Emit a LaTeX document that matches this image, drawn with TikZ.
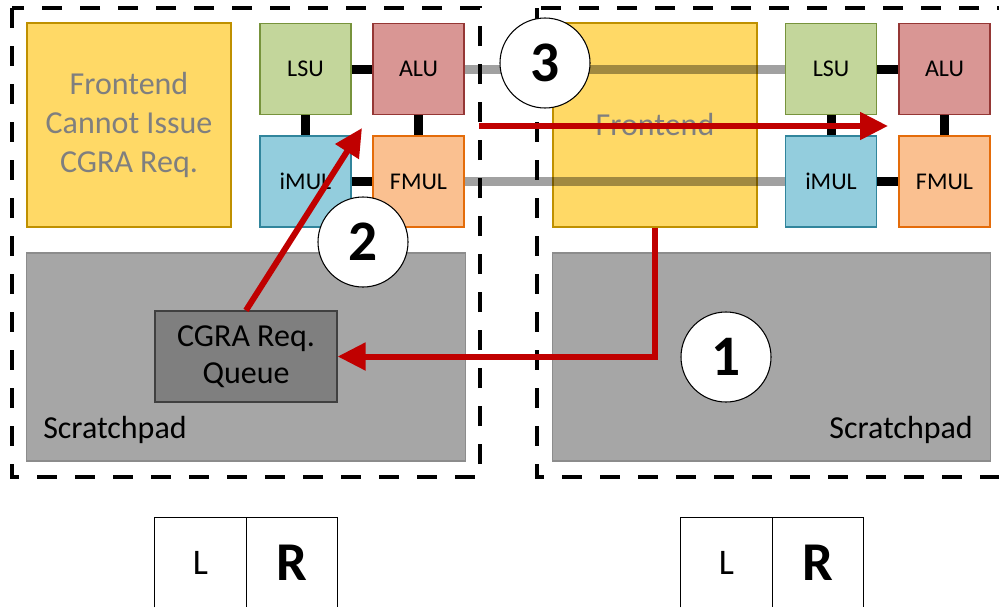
\documentclass[tikz,border=0pt]{standalone}
\usepackage{fontspec}
\setmainfont{Carlito}
\usetikzlibrary{arrows.meta}
\definecolor{feF}{HTML}{FFD966}
\definecolor{feD}{HTML}{BF9000}
\definecolor{lsuF}{HTML}{C3D69B}
\definecolor{lsuD}{HTML}{77933C}
\definecolor{aluF}{HTML}{D99694}
\definecolor{aluD}{HTML}{953735}
\definecolor{imulF}{HTML}{93CDDD}
\definecolor{imulD}{HTML}{31859C}
\definecolor{fmulF}{HTML}{FAC090}
\definecolor{fmulD}{HTML}{E46C0A}
\definecolor{spF}{HTML}{A6A6A6}
\definecolor{spD}{HTML}{8C8C8C}
\definecolor{qF}{HTML}{7F7F7F}
\definecolor{qD}{HTML}{404040}
\definecolor{txtgray}{HTML}{7F7F7F}
\definecolor{redA}{HTML}{C00000}
\tikzset{
  unit/.style={draw, line width=0.9pt, minimum width=68.25pt, minimum height=68.25pt, inner sep=0pt, font=\fontsize{18}{21}\selectfont},
  lsu/.style={unit, fill=lsuF, draw=lsuD},
  alu/.style={unit, fill=aluF, draw=aluD},
  imul/.style={unit, fill=imulF, draw=imulD},
  fmul/.style={unit, fill=fmulF, draw=fmulD},
  febox/.style={draw=feD, fill=feF, line width=0.9pt, minimum width=153pt, minimum height=153pt, inner sep=0pt, text=txtgray, align=center, font=\fontsize{24}{29.5}\selectfont},
  spad/.style={draw=spD, fill=spF, line width=0.8pt, minimum width=329pt, minimum height=156pt, inner sep=0pt},
  splabel/.style={inner sep=0pt, font=\fontsize{24}{28}\selectfont},
  queue/.style={draw=qD, fill=qF, line width=0.9pt, minimum width=136.5pt, minimum height=68.25pt, inner sep=0pt, align=center, font=\fontsize{24}{28}\selectfont},
  badge/.style={circle, draw=black, fill=white, line width=0.8pt, minimum size=67.5pt, inner sep=0pt, font=\fontsize{43}{45}\selectfont\bfseries},
  link/.style={draw=black, line width=6.75pt},
  bus/.style={draw=black, draw opacity=0.37, line width=6.75pt},
  redarrow/.style={draw=redA, line width=4.5pt, -{Triangle[length=21pt,width=20pt]}},
  dashbox/.style={draw=black, line width=3pt, dash pattern=on 15pt off 13.5pt},
  lrcell/.style={minimum width=68.25pt, minimum height=66.75pt, inner sep=0pt},
  cellline/.style={draw=black, line width=0.8pt}
}
\begin{document}
\begin{tikzpicture}[x=0.75pt,y=-0.75pt]
\useasboundingbox (0,0) rectangle (999,607);
\clip (0,0) rectangle (999,607);

% dashed tiles
\draw[dashbox] (12,8) rectangle (480,477);
\draw[dashbox] (537,8) rectangle (1030,477);

% scratchpads
\node[spad] (SP1) at (246,357) {};
\node[spad] (SP2) at (771.5,357) {};
\node[splabel, anchor=base west] (SPL1) at (43,438) {Scratchpad};
\node[splabel, anchor=base east] (SPL2) at (973,438) {Scratchpad};

% queue
\node[queue] (Q) at (246,356.5) {CGRA Req.\\Queue};

% frontends
\node[febox] (FE1) at (129,125) {Frontend\\Cannot Issue\\CGRA Req.};
\node[febox] (FE2) at (655,125) {Frontend};

% left functional units
\node[lsu]  (LSU1)  at (305.5,69)    {LSU};
\node[alu]  (ALU1)  at (418.5,69)    {ALU};
\node[imul] (IMUL1) at (305.5,181.5) {iMUL};
\node[fmul] (FMUL1) at (418.5,181.5) {FMUL};
% right functional units
\node[lsu]  (LSU2)  at (831,69)      {LSU};
\node[alu]  (ALU2)  at (944.5,69)    {ALU};
\node[imul] (IMUL2) at (831,181.5)   {iMUL};
\node[fmul] (FMUL2) at (944.5,181.5) {FMUL};

% black links
\draw[link] (LSU1.east) -- (ALU1.west);
\draw[link] (LSU1.south) -- (IMUL1.north);
\draw[link] (ALU1.south) -- (FMUL1.north);
\draw[link] (IMUL1.east) -- (FMUL1.west);
\draw[link] (LSU2.east) -- (ALU2.west);
\draw[link] (LSU2.south) -- (IMUL2.north);
\draw[link] (ALU2.south) -- (FMUL2.north);
\draw[link] (IMUL2.east) -- (FMUL2.west);

% gray buses between tiles
\draw[bus] (ALU1.east) -- (LSU2.west);
\draw[bus] (FMUL1.east) -- (IMUL2.west);

% badges
\node[badge] (B3) at (545,63) {3};
\node[badge] (B2) at (363,242) {2};
\node[badge] (B1) at (726,357) {1};

% red arrows
\coordinate (T2) at (362,128);
\coordinate (A3S) at (479,126);
\coordinate (A3E) at (888,126);
\draw[redarrow] (FE2.south) -- (FE2.south |- Q.east) -- (Q.east);
\draw[redarrow] (Q.north) -- (T2);
\draw[redarrow] (A3S) -- (A3E);

% L / R boxes
\node[lrcell, font=\fontsize{27}{30}\selectfont] (L1) at (200.5,562.5) {L};
\node[lrcell, font=\fontsize{41}{44}\selectfont\bfseries] (R1) at (291.5,562.5) {R};
\node[lrcell, font=\fontsize{27}{30}\selectfont] (L2) at (726.5,562.5) {L};
\node[lrcell, font=\fontsize{41}{44}\selectfont\bfseries] (R2) at (817.5,562.5) {R};
\draw[cellline] (L1.south west) -- (L1.north west) -- (R1.north east) -- (R1.south east);
\draw[cellline] (L1.north east) -- (L1.south east);
\draw[cellline] (L2.south west) -- (L2.north west) -- (R2.north east) -- (R2.south east);
\draw[cellline] (L2.north east) -- (L2.south east);
\end{tikzpicture}
\end{document}
